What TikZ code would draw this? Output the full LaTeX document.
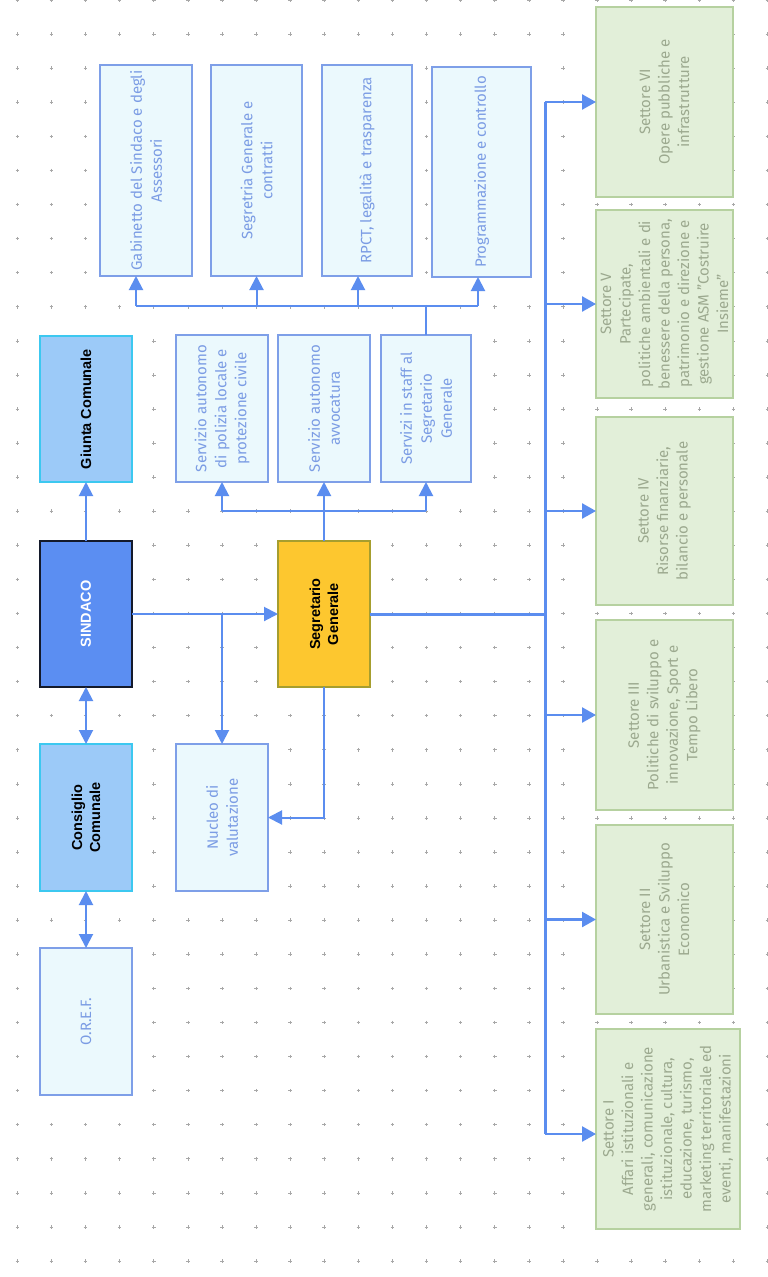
\documentclass[tikz,border=0pt]{standalone}
\usepackage{fontspec}
\setmainfont{Fira Sans}
\newfontfamily\boldf{Liberation Sans}
\usetikzlibrary{arrows.meta}
\definecolor{acol}{HTML}{5B8DEF}
\definecolor{lfill}{HTML}{EBF9FD}
\definecolor{lbord}{HTML}{7E9FE8}
\definecolor{ltxtc}{HTML}{7B9CE4}
\definecolor{gfill}{HTML}{E2EFD9}
\definecolor{gbord}{HTML}{B6D1A0}
\definecolor{gtxtc}{HTML}{9CA98F}
\definecolor{cfill}{HTML}{9CCAF8}
\definecolor{cbord}{HTML}{3CC8F0}
\definecolor{sfill}{HTML}{5B8EF2}
\definecolor{sbord}{HTML}{141A2B}
\definecolor{yfill}{HTML}{FDC72F}
\definecolor{ybord}{HTML}{A69E2E}
\definecolor{gridc}{HTML}{A8A8A8}
\begin{document}
\begin{tikzpicture}[x=1pt,y=-1pt,
  boxbase/.style={rectangle, inner sep=0pt, outer sep=0pt, line width=2pt},
  lbox/.style={boxbase, draw=lbord, fill=lfill},
  gbox/.style={boxbase, draw=gbord, fill=gfill},
  cbox/.style={boxbase, draw=cbord, fill=cfill},
  sbox/.style={boxbase, draw=sbord, fill=sfill, line width=2.5pt},
  ybox/.style={boxbase, draw=ybord, fill=yfill},
  ltxt/.style={rotate=90, align=center, text=ltxtc, font=\fontsize{15}{20}\selectfont},
  gtxt/.style={rotate=90, align=center, text=gtxtc, font=\fontsize{15}{19.5}\selectfont},
  btxt/.style={rotate=90, align=center, text=black, font=\boldf\bfseries\fontsize{14.5}{18}\selectfont},
  conn/.style={draw=acol, line width=2pt},
  arr/.style={conn, -{Triangle[length=14pt,width=14pt]}},
  dbl/.style={conn, {Triangle[length=14pt,width=14pt]}-{Triangle[length=14pt,width=14pt]}},
  trunk/.style={draw=acol, line width=3pt},
  tarr/.style={draw=acol, line width=2.5pt, -{Triangle[length=14pt,width=15pt]}},
  gridmark/.style={draw=gridc, line width=0.6pt}
]
\useasboundingbox[fill=white] (0,0) rectangle (768,1277);
% dot grid
\foreach \i in {0,...,22}{
  \foreach \j in {0,...,37}{
    \draw[gridmark] (17.3+34.1*\i-1.8, 34.08*\j) -- ++(3.6,0)
                    (17.3+34.1*\i, 34.08*\j-1.8) -- ++(0,3.6);
  }
}
% top row
\node[lbox, minimum width=92pt, minimum height=211pt] (gab) at (146,170.5) {};
\node[lbox, minimum width=91pt, minimum height=211pt] (segc) at (256.5,170.5) {};
\node[lbox, minimum width=90pt, minimum height=211pt] (rpct) at (367,170.5) {};
\node[lbox, minimum width=99pt, minimum height=210pt] (prog) at (481.5,172) {};
\node[ltxt] at (gab) {Gabinetto del Sindaco e degli\\Assessori};
\node[ltxt] at (segc) {Segretria Generale e\\contratti};
\node[ltxt] at (rpct) {RPCT, legalità e trasparenza};
\node[ltxt] at (prog) {Programmazione e controllo};
% second row
\node[cbox, minimum width=92pt, minimum height=146pt] (giunta) at (86,409) {};
\node[btxt] at (giunta) {Giunta Comunale};
\node[lbox, minimum width=92pt, minimum height=147pt] (pol) at (222,408.5) {};
\node[lbox, minimum width=92pt, minimum height=147pt] (avv) at (324,408.5) {};
\node[lbox, minimum width=90pt, minimum height=147pt] (staff) at (426,408.5) {};
\node[ltxt] at (pol) {Servizio autonomo\\di polizia locale e\\protezione civile};
\node[ltxt] at (avv) {Servizio autonomo\\avvocatura};
\node[ltxt] at (staff) {Servizi in staff al\\Segretario\\Generale};
% third row
\node[sbox, minimum width=92pt, minimum height=146pt] (sind) at (86,614) {};
\node[btxt, text=white] at (sind) {SINDACO};
\node[ybox, minimum width=92pt, minimum height=146pt] (segr) at (324,614) {};
\node[btxt] at (segr) {Segretario\\Generale};
% fourth row
\node[cbox, minimum width=92pt, minimum height=147pt] (cons) at (86,817.5) {};
\node[btxt] at (cons) {Consiglio\\Comunale};
\node[lbox, minimum width=92pt, minimum height=147pt] (nuc) at (222,817.5) {};
\node[ltxt] at (nuc) {Nucleo di\\valutazione};
% OREF
\node[lbox, minimum width=92pt, minimum height=147pt] (oref) at (86,1021.5) {};
\node[ltxt] at (oref) {O.R.E.F.};
% settori
\node[gbox, minimum width=137pt, minimum height=190pt] (s6) at (664.5,102) {};
\node[gbox, minimum width=137pt, minimum height=188pt] (s5) at (664.5,304) {};
\node[gbox, minimum width=137pt, minimum height=188pt] (s4) at (664.5,511) {};
\node[gbox, minimum width=137pt, minimum height=190pt] (s3) at (664.5,715) {};
\node[gbox, minimum width=137pt, minimum height=189pt] (s2) at (664.5,919.5) {};
\node[gbox, minimum width=144pt, minimum height=200pt] (s1) at (668,1129) {};
\node[gtxt] at (s6) {Settore VI\\Opere pubbliche e\\infrastrutture};
\node[gtxt] at (s5) {Settore V\\Partecipate,\\politiche ambientali e di\\benessere della persona,\\patrimonio e direzione e\\gestione ASM "Costruire\\Insieme"};
\node[gtxt] at (s4) {Settore IV\\Risorse finanziarie,\\bilancio e personale};
\node[gtxt] at (s3) {Settore III\\Politiche di sviluppo e\\innovazione, Sport e\\Tempo Libero};
\node[gtxt] at (s2) {Settore II\\Urbanistica e Sviluppo\\Economico};
\node[gtxt] at (s1) {Settore I\\Affari istituzionali e\\generali, comunicazione\\istituzionale, cultura,\\educazione, turismo,\\marketing territoriale ed\\eventi, manifestazioni};
% helper coordinates
\coordinate (rail1) at (0,306);
\coordinate (rail2) at (0,511);
\coordinate (tr) at (545,0);
\coordinate (gabin) at ([xshift=-10pt]gab.south);
\coordinate (rpctin) at ([xshift=-9pt]rpct.south);
\coordinate (progin) at ([xshift=-3.5pt]prog.south);
\coordinate (s1in) at ([yshift=-5pt]s1.west);
% connectors: staff to top row
\draw[conn] (staff.north) -- (staff.north |- rail1);
\draw[conn] (gabin |- rail1) -- (progin |- rail1);
\draw[arr] (gabin |- rail1) -- (gabin);
\draw[arr] (segc.south |- rail1) -- (segc.south);
\draw[arr] (rpctin |- rail1) -- (rpctin);
\draw[arr] (progin |- rail1) -- (progin);
% segretario to second row
\draw[arr] (segr.north) -- (avv.south);
\draw[conn] (pol.south |- rail2) -- (staff.south |- rail2);
\draw[arr] (pol.south |- rail2) -- (pol.south);
\draw[arr] (staff.south |- rail2) -- (staff.south);
% sindaco
\draw[arr] (sind.north) -- (giunta.south);
\draw[arr] (sind.east) -- (segr.west);
\draw[arr] (nuc.north |- sind.east) -- (nuc.north);
\draw[dbl] (sind.south) -- (cons.north);
\draw[dbl] (cons.south) -- (oref.north);
\draw[arr] (segr.south) |- (nuc.east);
% settori trunk
\draw[trunk] (segr.east) -- (tr |- segr.east);
\draw[trunk] (tr |- s6.west) -- (tr |- s1in);
\draw[tarr] (tr |- s6.west) -- (s6.west);
\draw[tarr] (tr |- s5.west) -- (s5.west);
\draw[tarr] (tr |- s4.west) -- (s4.west);
\draw[tarr] (tr |- s3.west) -- (s3.west);
\draw[tarr] (tr |- s2.west) -- (s2.west);
\draw[tarr] (tr |- s1in) -- (s1in);
\end{tikzpicture}
\end{document}
